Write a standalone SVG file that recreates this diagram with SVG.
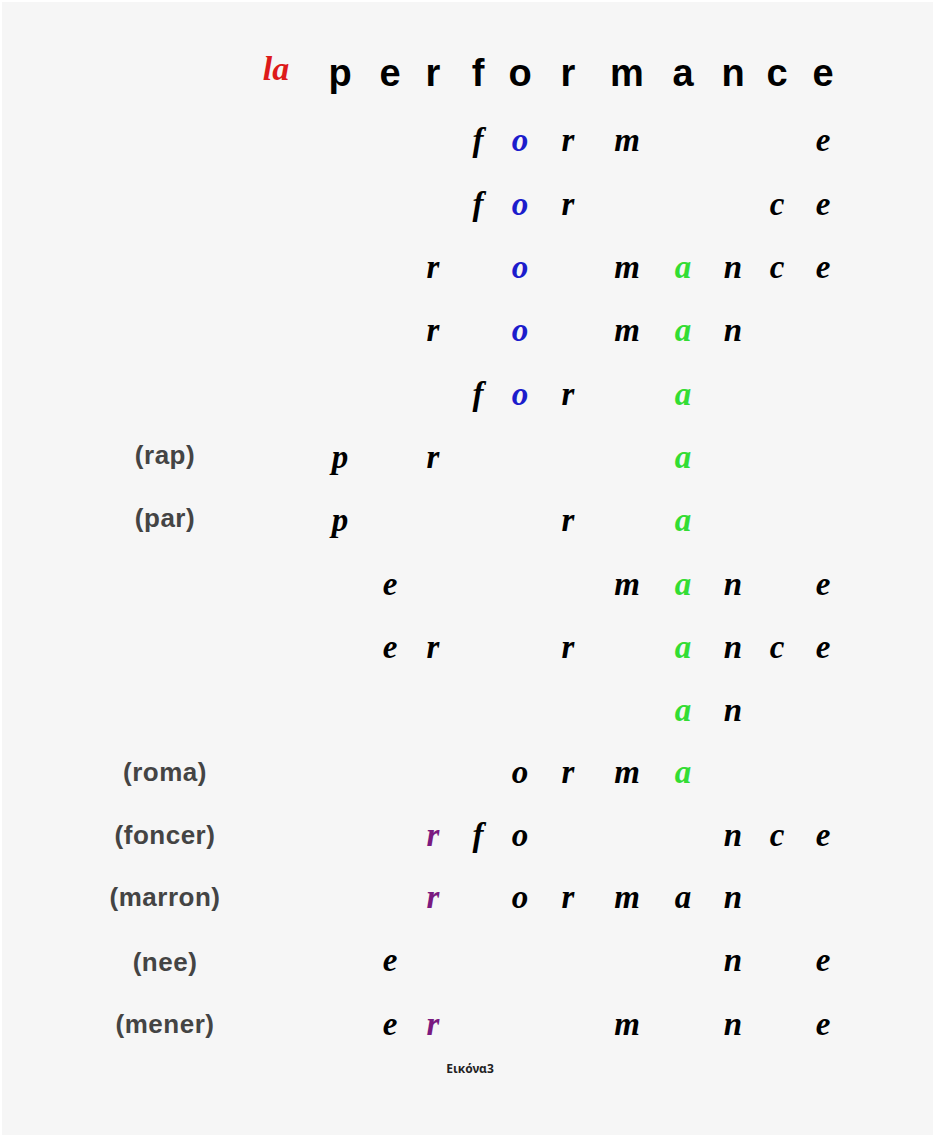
<svg xmlns="http://www.w3.org/2000/svg" width="933" height="1137" viewBox="0 0 933 1137">
<style>
.hd{font-family:"Liberation Sans",Arial,sans-serif;font-weight:bold;font-size:38px;fill:#000;text-anchor:middle}
.it{font-family:"Liberation Serif","Times New Roman",serif;font-style:italic;font-weight:bold;font-size:33px;fill:#000;text-anchor:middle}
.lb{font-family:"Liberation Sans",Arial,sans-serif;font-weight:bold;font-size:26px;fill:#444;text-anchor:middle;letter-spacing:0.5px}
.b{fill:#1c1ccc}
.g{fill:#33dd33}
.p{fill:#7a1a80}
.cap{font-family:"Noto Sans",sans-serif;font-weight:bold;font-size:12px;fill:#222;text-anchor:middle}
</style>
<rect x="0" y="0" width="933" height="1137" fill="#ffffff"/>
<rect x="2" y="2" width="931" height="1133" fill="#f6f6f6"/>
<g id="header">
<text x="276" y="80" class="it" style="fill:#dd1a1a;font-size:34px">la</text>
<text x="340" y="86" class="hd">p</text>
<text x="390" y="86" class="hd">e</text>
<text x="433" y="86" class="hd">r</text>
<text x="478" y="86" class="hd">f</text>
<text x="520" y="86" class="hd">o</text>
<text x="568" y="86" class="hd">r</text>
<text x="627" y="86" class="hd">m</text>
<text x="683" y="86" class="hd">a</text>
<text x="733" y="86" class="hd">n</text>
<text x="777" y="86" class="hd">c</text>
<text x="823" y="86" class="hd">e</text>
</g>
<g id="row1">
<text x="478" y="151" class="it">f</text><text x="520" y="151" class="it b">o</text><text x="568" y="151" class="it">r</text><text x="627" y="151" class="it">m</text><text x="823" y="151" class="it">e</text>
</g>
<g id="row2">
<text x="478" y="215" class="it">f</text><text x="520" y="215" class="it b">o</text><text x="568" y="215" class="it">r</text><text x="777" y="215" class="it">c</text><text x="823" y="215" class="it">e</text>
</g>
<g id="row3">
<text x="433" y="278" class="it">r</text><text x="520" y="278" class="it b">o</text><text x="627" y="278" class="it">m</text><text x="683" y="278" class="it g">a</text><text x="733" y="278" class="it">n</text><text x="777" y="278" class="it">c</text><text x="823" y="278" class="it">e</text>
</g>
<g id="row4">
<text x="433" y="341" class="it">r</text><text x="520" y="341" class="it b">o</text><text x="627" y="341" class="it">m</text><text x="683" y="341" class="it g">a</text><text x="733" y="341" class="it">n</text>
</g>
<g id="row5">
<text x="478" y="405" class="it">f</text><text x="520" y="405" class="it b">o</text><text x="568" y="405" class="it">r</text><text x="683" y="405" class="it g">a</text>
</g>
<g id="row6">
<text x="165" y="464" class="lb">(rap)</text>
<text x="340" y="468" class="it">p</text><text x="433" y="468" class="it">r</text><text x="683" y="468" class="it g">a</text>
</g>
<g id="row7">
<text x="165" y="527" class="lb">(par)</text>
<text x="340" y="531" class="it">p</text><text x="568" y="531" class="it">r</text><text x="683" y="531" class="it g">a</text>
</g>
<g id="row8">
<text x="390" y="595" class="it">e</text><text x="627" y="595" class="it">m</text><text x="683" y="595" class="it g">a</text><text x="733" y="595" class="it">n</text><text x="823" y="595" class="it">e</text>
</g>
<g id="row9">
<text x="390" y="658" class="it">e</text><text x="433" y="658" class="it">r</text><text x="568" y="658" class="it">r</text><text x="683" y="658" class="it g">a</text><text x="733" y="658" class="it">n</text><text x="777" y="658" class="it">c</text><text x="823" y="658" class="it">e</text>
</g>
<g id="row10">
<text x="683" y="721" class="it g">a</text><text x="733" y="721" class="it">n</text>
</g>
<g id="row11">
<text x="165" y="781" class="lb">(roma)</text>
<text x="520" y="783" class="it">o</text><text x="568" y="783" class="it">r</text><text x="627" y="783" class="it">m</text><text x="683" y="783" class="it g">a</text>
</g>
<g id="row12">
<text x="165" y="844" class="lb">(foncer)</text>
<text x="433" y="846" class="it p">r</text><text x="478" y="846" class="it">f</text><text x="520" y="846" class="it">o</text><text x="733" y="846" class="it">n</text><text x="777" y="846" class="it">c</text><text x="823" y="846" class="it">e</text>
</g>
<g id="row13">
<text x="165" y="906" class="lb">(marron)</text>
<text x="433" y="908" class="it p">r</text><text x="520" y="908" class="it">o</text><text x="568" y="908" class="it">r</text><text x="627" y="908" class="it">m</text><text x="683" y="908" class="it">a</text><text x="733" y="908" class="it">n</text>
</g>
<g id="row14">
<text x="165" y="971" class="lb">(nee)</text>
<text x="390" y="971" class="it">e</text><text x="733" y="971" class="it">n</text><text x="823" y="971" class="it">e</text>
</g>
<g id="row15">
<text x="165" y="1033" class="lb">(mener)</text>
<text x="390" y="1035" class="it">e</text><text x="433" y="1035" class="it p">r</text><text x="627" y="1035" class="it">m</text><text x="733" y="1035" class="it">n</text><text x="823" y="1035" class="it">e</text>
</g>
<g id="connectors"></g>
<g id="caption">
<text x="470" y="1073" class="cap">Εικόνα3</text>
</g>
</svg>
